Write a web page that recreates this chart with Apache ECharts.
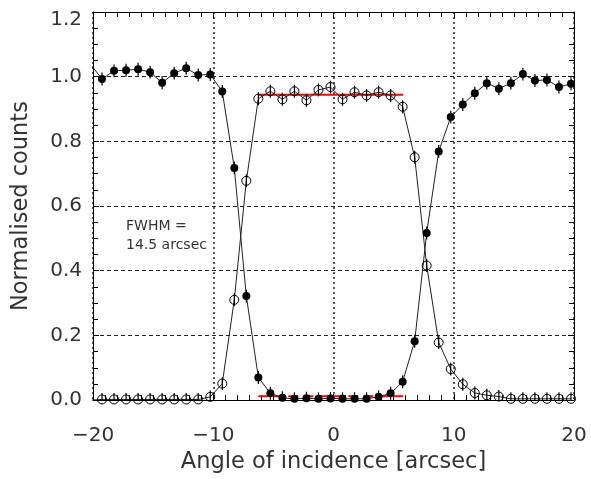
<!DOCTYPE html>
<html>
<head>
<meta charset="utf-8">
<script src="https://cdn.jsdelivr.net/npm/echarts@6/dist/echarts.min.js"></script>
<style>
html, body { margin: 0; padding: 0; background: #fff; }
#chart { width: 591px; height: 479px; }
</style>
</head>
<body>
<div id="chart"></div>
<script>
// angle of incidence (arcsec), first point lies just outside the plot
var angles = [-20.25, -19.25, -18.25, -17.25, -16.25, -15.25, -14.25, -13.25, -12.25, -11.25, -10.25,
    -9.25, -8.25, -7.25, -6.25, -5.25, -4.25, -3.25, -2.25, -1.25, -0.25,
    0.75, 1.75, 2.75, 3.75, 4.75, 5.75, 6.75, 7.75, 8.75, 9.75,
    10.75, 11.75, 12.75, 13.75, 14.75, 15.75, 16.75, 17.75, 18.75, 19.75];
// filled circles
var filledCounts = [1.04, 0.993, 1.018, 1.020, 1.023, 1.014, 0.981, 1.011, 1.026, 1.005, 1.007,
    0.954, 0.718, 0.322, 0.070, 0.021, 0.007, 0.004, 0.006, 0.004, 0.005,
    0.004, 0.004, 0.004, 0.010, 0.021, 0.057, 0.182, 0.517, 0.769, 0.875,
    0.914, 0.949, 0.980, 0.963, 0.980, 1.008, 0.988, 0.990, 0.968, 0.978];
// open circles
var openCounts = [0.0, 0.002, 0.002, 0.002, 0.002, 0.002, 0.002, 0.002, 0.002, 0.002, 0.01,
    0.051, 0.31, 0.678, 0.932, 0.955, 0.930, 0.955, 0.927, 0.959, 0.968,
    0.930, 0.952, 0.942, 0.952, 0.942, 0.907, 0.751, 0.416, 0.178, 0.096,
    0.049, 0.022, 0.015, 0.011, 0.004, 0.004, 0.004, 0.004, 0.004, 0.004];
var errHalf = 0.02;
// red reference lines
var plateauX = [-6.25, 5.8];
var plateauHigh = 0.944;
var plateauLow = 0.012;
var xTicks = [-20, 20, 10];
var yTicks = [0, 1.2, 0.2];

var textColor = '#333';
var font = 'DejaVu Sans';

function pairs(xs, ys) {
    var out = [];
    for (var i = 0; i < xs.length; i++) out.push([xs[i], ys[i]]);
    return out;
}

function errorBars(params, api) {
    var x = api.value(0), y = api.value(1);
    var lo = api.coord([x, y - errHalf]);
    var hi = api.coord([x, y + errHalf]);
    return {
        type: 'line',
        shape: { x1: lo[0], y1: lo[1], x2: hi[0], y2: hi[1] },
        style: { stroke: '#000', lineWidth: 1.2 }
    };
}

var tickStyle = { color: '#000', width: 1 };

function xAxisCfg(pos, main) {
    return {
        type: 'value', position: pos,
        min: xTicks[0], max: xTicks[1], interval: xTicks[2],
        axisLine: { show: true, onZero: false, lineStyle: tickStyle },
        axisTick: { show: true, inside: true, length: 6, lineStyle: tickStyle },
        minorTick: { show: true, splitNumber: 10, length: 5, lineStyle: tickStyle },
        splitLine: { show: main, lineStyle: { color: '#222', width: 1.5, type: [2, 3] } },
        axisLabel: {
            show: main, margin: 26, fontSize: 20, fontFamily: font, color: textColor,
            formatter: function (v) { return v < 0 ? '\u2212' + Math.abs(v) : String(v); }
        },
        name: main ? 'Angle of incidence [arcsec]' : '',
        nameLocation: 'middle', nameGap: 47,
        nameTextStyle: { fontSize: 22.5, fontFamily: font, color: textColor }
    };
}

function yAxisCfg(pos, main) {
    return {
        type: 'value', position: pos,
        min: yTicks[0], max: yTicks[1], interval: yTicks[2],
        axisLine: { show: true, onZero: false, lineStyle: tickStyle },
        axisTick: { show: true, inside: true, length: 6, lineStyle: tickStyle },
        minorTick: { show: true, splitNumber: 4, length: 5, lineStyle: tickStyle },
        splitLine: { show: main, lineStyle: { color: '#222', width: 1, type: [4, 3] } },
        axisLabel: {
            show: main, margin: 11, fontSize: 20, fontFamily: font, color: textColor,
            formatter: function (v) {
                // top label sits a little below the frame in the original
                return v >= yTicks[1] - 1e-9 ? '{top|' + v.toFixed(1) + '}' : v.toFixed(1);
            },
            rich: { top: { fontSize: 20, fontFamily: font, color: textColor, padding: [16, 0, 0, 0] } }
        },
        name: main ? 'Normalised counts' : '',
        nameLocation: 'middle', nameGap: 60,
        nameTextStyle: { fontSize: 22.5, fontFamily: font, color: textColor }
    };
}

var chart = echarts.init(document.getElementById('chart'));

chart.setOption({
    animation: false,
    backgroundColor: '#fff',
    grid: { left: 93, right: 17, top: 12, bottom: 72 },
    xAxis: [xAxisCfg('bottom', true), xAxisCfg('top', false)],
    yAxis: [yAxisCfg('left', true), yAxisCfg('right', false)],
    graphic: [
        { type: 'text', left: 126, top: 219, style: { text: 'FWHM =', font: '14px "DejaVu Sans"', fill: textColor } },
        { type: 'text', left: 126, top: 238, style: { text: '14.5 arcsec', font: '14px "DejaVu Sans"', fill: textColor } }
    ],
    series: [
        {
            type: 'line', name: 'plateau', data: [[plateauX[0], plateauHigh], [plateauX[1], plateauHigh]],
            showSymbol: false, lineStyle: { color: '#ff0000', width: 2 }, z: 1
        },
        {
            type: 'line', name: 'floor', data: [[plateauX[0], plateauLow], [plateauX[1], plateauLow]],
            showSymbol: false, lineStyle: { color: '#ff0000', width: 2, type: [10, 5] }, z: 1
        },
        {
            type: 'line', name: 'filled', data: pairs(angles, filledCounts), clip: true,
            symbol: 'circle', symbolSize: 8,
            itemStyle: { color: '#000' },
            lineStyle: { color: '#222', width: 1 }, z: 3
        },
        {
            type: 'line', name: 'open', data: pairs(angles, openCounts), clip: true,
            symbol: 'circle', symbolSize: 9,
            itemStyle: { color: 'rgba(255,255,255,0)', borderColor: '#000', borderWidth: 1 },
            lineStyle: { color: '#222', width: 1 }, z: 3
        },
        {
            type: 'custom', name: 'filledErr', data: pairs(angles, filledCounts), clip: true,
            renderItem: errorBars, encode: { x: 0, y: 1 }, z: 4
        },
        {
            type: 'custom', name: 'openErr', data: pairs(angles, openCounts), clip: true,
            renderItem: errorBars, encode: { x: 0, y: 1 }, z: 4
        }
    ]
});
</script>
</body>
</html>
